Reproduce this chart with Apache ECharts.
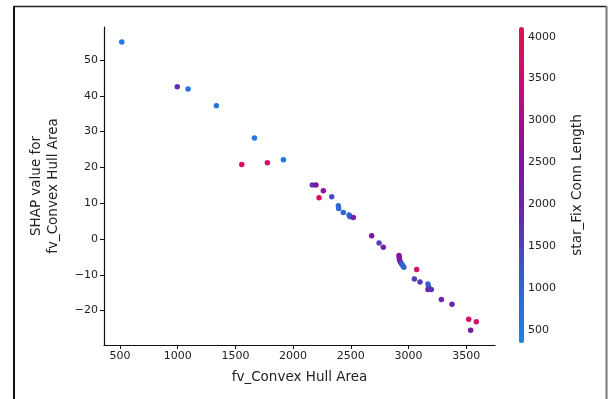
<!DOCTYPE html>
<html>
<head>
<meta charset="utf-8">
<script src="https://cdn.jsdelivr.net/npm/echarts@6/dist/echarts.min.js"></script>
<style>
html,body{margin:0;padding:0;background:#fff;}
#c{width:612px;height:399px;}
</style>
</head>
<body>
<div id="c"></div>
<script>
// fv_Convex Hull Area
var hullArea = [515, 996, 1090, 1335, 1665, 1555, 1777, 1916, 2166, 2198, 2262, 2225, 2335, 2392, 2395, 2435, 2485, 2493, 2522, 2681, 2745, 2782, 2918, 2920, 2922, 2930, 2940, 2950, 2960, 3071, 3051, 3100, 3169, 3175, 3169, 3198, 3285, 3377, 3522, 3588, 3539];
// SHAP value for fv_Convex Hull Area
var shapValue = [55.0, 42.5, 41.9, 37.2, 28.2, 20.8, 21.3, 22.1, 15.1, 15.1, 13.5, 11.5, 11.8, 9.3, 8.5, 7.4, 6.7, 6.2, 6.0, 0.9, -1.1, -2.3, -4.6, -5.2, -5.8, -6.4, -7.0, -7.4, -7.9, -8.5, -11.2, -12.0, -12.6, -13.3, -14.1, -14.1, -16.9, -18.2, -22.4, -23.1, -25.5];
// star_Fix Conn Length (colour)
var connLength = [500, 1800, 700, 700, 600, 3900, 3700, 600, 1600, 2500, 2600, 3800, 1400, 900, 900, 1000, 1000, 1100, 2200, 2300, 1500, 2100, 2600, 2500, 2300, 1800, 1200, 1000, 1000, 3800, 1600, 1600, 1100, 1100, 2000, 1700, 2000, 2000, 3800, 3700, 2300];
var xTicks = [500, 1000, 1500, 2000, 2500, 3000, 3500];
var yTicks = [-20, -10, 0, 10, 20, 30, 40, 50];
var cbTicks = [500, 1000, 1500, 2000, 2500, 3000, 3500, 4000];

var FONT = 'DejaVu Sans';
var data = hullArea.map(function (x, i) { return [x, shapValue[i], connLength[i]]; });
function fmt(v) { return v < 0 ? '\u2212' + Math.abs(v) : String(v); }

var chart = echarts.init(document.getElementById('c'), null, {renderer: 'canvas'});
chart.setOption({
  animation: false,
  backgroundColor: '#fff',
  textStyle: {fontFamily: FONT},
  grid: [
    {left: 104, top: 27, width: 391, height: 318},
    {left: 519, top: 27, width: 5, height: 316}
  ],
  xAxis: [
    {
      gridIndex: 0, type: 'value', min: 361, max: 3750,
      name: 'fv_Convex Hull Area', nameLocation: 'middle', nameGap: 25,
      nameTextStyle: {fontSize: 13.5, color: '#222', fontFamily: FONT},
      axisLine: {show: true, onZero: false, lineStyle: {color: '#111', width: 1.2}},
      axisTick: {show: true, inside: false, length: 4, customValues: xTicks, lineStyle: {color: '#111'}},
      axisLabel: {customValues: xTicks, fontSize: 11, color: '#222', margin: 6, formatter: fmt, fontFamily: FONT},
      splitLine: {show: false}
    },
    {
      gridIndex: 1, type: 'value', min: 0, max: 1, show: false
    }
  ],
  yAxis: [
    {
      gridIndex: 0, type: 'value', min: -29.6, max: 59.2,
      name: 'SHAP value for\nfv_Convex Hull Area', nameLocation: 'middle', nameGap: 42, nameRotate: 90,
      nameTextStyle: {fontSize: 13.5, color: '#222', lineHeight: 17, fontFamily: FONT, align: 'center'},
      axisLine: {show: true, onZero: false, lineStyle: {color: '#111', width: 1.2}},
      axisTick: {show: true, inside: false, length: 4, customValues: yTicks, lineStyle: {color: '#111'}},
      axisLabel: {customValues: yTicks, fontSize: 11, color: '#222', margin: 6, formatter: fmt, fontFamily: FONT},
      splitLine: {show: false}
    },
    {
      gridIndex: 1, type: 'value', min: 345, max: 4116, position: 'right',
      name: 'star_Fix Conn Length', nameLocation: 'middle', nameGap: 46, nameRotate: 90,
      nameTextStyle: {fontSize: 13.5, color: '#222', fontFamily: FONT},
      axisLine: {show: false},
      axisTick: {show: true, inside: false, length: 3, customValues: cbTicks, lineStyle: {color: '#111'}},
      axisLabel: {customValues: cbTicks, fontSize: 11, color: '#222', margin: 4, formatter: fmt, fontFamily: FONT},
      splitLine: {show: false}
    }
  ],
  visualMap: {
    type: 'continuous', seriesIndex: 0, dimension: 2,
    min: 345, max: 4116, calculable: false, realtime: false,
    orient: 'vertical', left: 519, top: 27, itemWidth: 5, itemHeight: 316,
    padding: 0, text: null, showLabel: false, hoverLink: false,
    inRange: {color: ['#1585e8', '#3560cc', '#6628b0', '#8a0f9e', '#c10c7c', '#e8104f']}
  },
  series: [{
    type: 'scatter', xAxisIndex: 0, yAxisIndex: 0,
    data: data, symbolSize: 5.5,
    itemStyle: {opacity: 1}
  }],
  graphic: [
    {type: 'line', shape: {x1: 14, y1: 6, x2: 14, y2: 399}, style: {stroke: '#111', lineWidth: 2}, silent: true},
    {type: 'line', shape: {x1: 13, y1: 6.5, x2: 607, y2: 6.5}, style: {stroke: '#222', lineWidth: 1.5}, silent: true},
    {type: 'line', shape: {x1: 606.5, y1: 6, x2: 606.5, y2: 399}, style: {stroke: '#777', lineWidth: 2}, silent: true}
  ]
});
</script>
</body>
</html>
